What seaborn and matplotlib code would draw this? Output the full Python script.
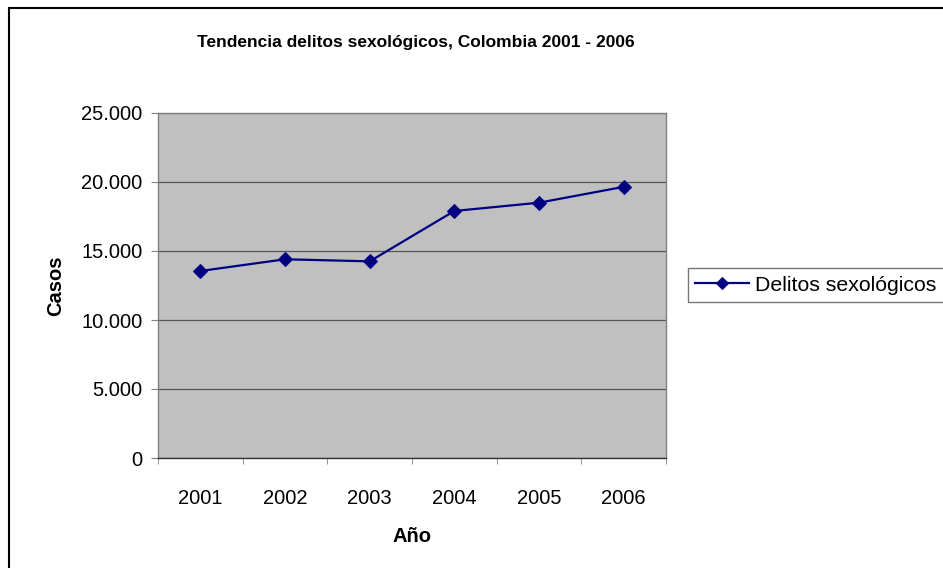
import matplotlib
matplotlib.use('Agg')
import matplotlib.pyplot as plt
import matplotlib.patches as mpatches
from matplotlib.ticker import FuncFormatter, FixedLocator
import pandas
import seaborn as sns

# valores
anios = ['2001', '2002', '2003', '2004', '2005', '2006']
casos = [13550, 14400, 14250, 17900, 18500, 19650]
serie = 'Delitos sexológicos'

data = pandas.DataFrame({'Año': anios, 'Casos': casos})
data['pos'] = range(len(anios))

plt.rcParams['font.family'] = ['Liberation Sans', 'DejaVu Sans']

fig = plt.figure(figsize=(9.43, 5.68), dpi=100)
ax = fig.add_axes([158/943, 1 - 458/568, (666 - 158)/943, (458 - 113)/568])
ax.set_facecolor('#c0c0c0')

sns.lineplot(data=data, x='pos', y='Casos', ax=ax, color='#000080', marker='D',
             markersize=7.5, linewidth=1.6, markeredgecolor='#000080', label=serie)

ax.set_xlim(-0.5, len(anios) - 0.5)
ax.set_ylim(0, 25000)
ax.set_yticks(range(0, 25001, 5000))
ax.yaxis.set_major_formatter(FuncFormatter(lambda v, p: '{:,}'.format(int(v)).replace(',', '.')))
ax.yaxis.grid(True, color='#555555', linewidth=0.9)
ax.set_axisbelow(True)

ax.set_xticks(data['pos'])
ax.set_xticklabels(anios)
ax.xaxis.set_minor_locator(FixedLocator([i - 0.5 for i in range(len(anios) + 1)]))
ax.tick_params(axis='x', which='major', length=0, pad=22, labelsize=14.5)
ax.tick_params(axis='x', which='minor', length=4, color='#808080', direction='out')
ax.tick_params(axis='y', length=5, color='#808080', labelsize=14.5, pad=6)

for s in ax.spines.values():
    s.set_color('#808080')
    s.set_linewidth(1.0)
ax.spines['bottom'].set_color('#333333')

ax.set_xlabel('Año', fontsize=14.5, fontweight='bold', labelpad=14)
ax.set_ylabel('Casos', fontsize=14.5, fontweight='bold', labelpad=12)

fig.text(416/943, 1 - 42/568, 'Tendencia delitos sexológicos, Colombia 2001 - 2006',
         ha='center', va='center', fontsize=12.5, fontweight='bold')

leg = ax.legend(loc='center left', bbox_to_anchor=(688/943, 1 - 285/568),
                bbox_transform=fig.transFigure, fontsize=15.3, frameon=True,
                fancybox=False, handlelength=2.5, borderpad=0.35, handletextpad=0.3,
                borderaxespad=0, markerscale=0.75)
leg.get_frame().set_edgecolor('#555555')
leg.get_frame().set_linewidth(1.0)
leg.get_frame().set_facecolor('white')

fig.patches.append(mpatches.Rectangle((9/943, -0.1), 2, 1 - 8/568 + 0.1,
                                      transform=fig.transFigure, fill=False,
                                      edgecolor='black', linewidth=1.5))

fig.savefig('out.png', dpi=100)
